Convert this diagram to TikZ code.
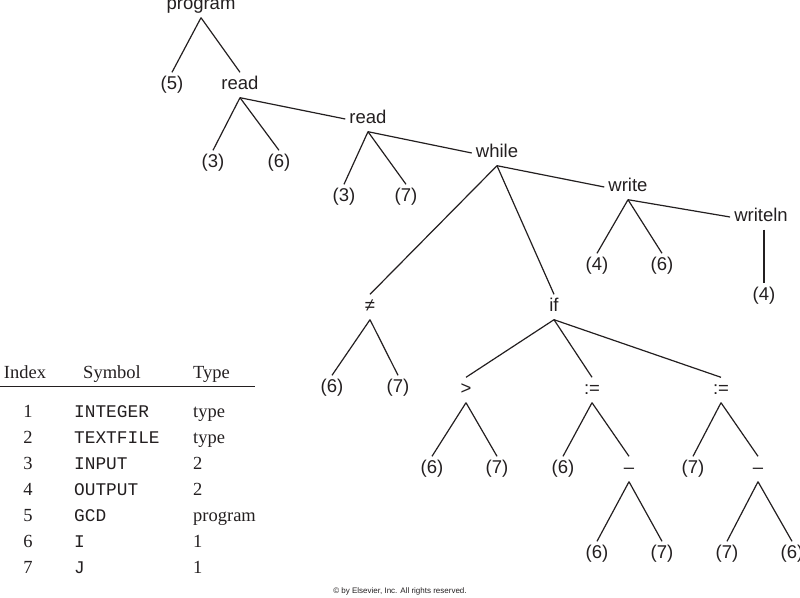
\documentclass[tikz,border=0pt]{standalone}
\usepackage{fontspec}
\setmainfont{Liberation Serif}
\setsansfont{Liberation Sans}
\setmonofont{Liberation Mono}
\definecolor{ink}{RGB}{35,31,32}

\begin{document}
\begin{tikzpicture}[x=1pt,y=-1pt,
    lbl/.style={font=\sffamily\fontsize{18.5}{20}\selectfont,text=ink,
        text height=13pt,text depth=4pt,inner sep=4pt},
    edge/.style={draw=ink,line width=1.2pt},
    tab/.style={font=\fontsize{18.5}{21}\selectfont,text=ink,inner sep=0pt,anchor=base},
    sym/.style={font=\ttfamily\fontsize{17.8}{20}\selectfont,text=ink,inner sep=0pt,
        anchor=base west}]
    \useasboundingbox (0,0) rectangle (800,597);

    % syntax tree
    \node[lbl] (prog) at (201,5) {program};
    \node[lbl] (n5) at (172,85) {(5)};
    \node[lbl] (rd1) at (240,85) {read};
    \node[lbl] (r1a) at (213,163) {(3)};
    \node[lbl] (r1b) at (279,163) {(6)};
    \node[lbl] (rd2) at (368,119) {read};
    \node[lbl] (r2a) at (344,197) {(3)};
    \node[lbl] (r2b) at (406,197) {(7)};
    \node[lbl] (wh) at (497,153) {while};
    \node[lbl] (wr) at (628,187) {write};
    \node[lbl] (wr1) at (597,266) {(4)};
    \node[lbl] (wr2) at (662,266) {(6)};
    \node[lbl] (wl) at (761,217) {writeln};
    \node[lbl] (wl1) at (764,296) {(4)};
    \node[lbl] (ne) at (370,307) {≠};
    \node[lbl] (ne1) at (332,388) {(6)};
    \node[lbl] (ne2) at (398,388) {(7)};
    \node[lbl] (if) at (554,307) {if};
    \node[lbl] (gt) at (466,390) {>};
    \node[lbl] (as1) at (592,390) {:=};
    \node[lbl] (as2) at (721,390) {:=};
    \node[lbl] (gt1) at (432,469) {(6)};
    \node[lbl] (gt2) at (497,469) {(7)};
    \node[lbl] (as1a) at (563,469) {(6)};
    \node[lbl] (mi1) at (629,469) {–};
    \node[lbl] (mi1a) at (597,554) {(6)};
    \node[lbl] (mi1b) at (662,554) {(7)};
    \node[lbl] (as2a) at (693,469) {(7)};
    \node[lbl] (mi2) at (758,469) {–};
    \node[lbl] (mi2a) at (727,554) {(7)};
    \node[lbl] (mi2b) at (792,554) {(6)};

    \foreach \a/\b in {prog/n5,prog/rd1,rd1/r1a,rd1/r1b,rd2/r2a,rd2/r2b,
        wh/ne,wh/if,wr/wr1,wr/wr2,ne/ne1,ne/ne2,if/gt,if/as1,if/as2,
        gt/gt1,gt/gt2,as1/as1a,as1/mi1,mi1/mi1a,mi1/mi1b,
        as2/as2a,as2/mi2,mi2/mi2a,mi2/mi2b}
        \draw[edge] (\a.south) -- (\b.north);
    \foreach \a/\b in {rd1/rd2,rd2/wh,wh/wr,wr/wl}
        \draw[edge] (\a.south) -- (\b.west);
    \draw[edge] (wl1.north |- wl.south) -- (wl1.north);

    % symbol table
    \node[tab] (hidx) at (25,378) {Index};
    \node[tab] (hsym) at (112,378) {Symbol};
    \node[tab,anchor=base west] (htyp) at (193,378) {Type};
    \coordinate (rl) at (0,386.5);
    \coordinate (rr) at (255,386.5);
    \draw[draw=ink,line width=1.1pt] (rl) -- (rr);
    \foreach \i/\s/\t in {1/INTEGER/type,2/TEXTFILE/type,3/INPUT/2,
        4/OUTPUT/2,5/GCD/program,6/I/1,7/J/1}{
        \node[tab] (idx\i) at (28,391+26*\i) {\i};
        \node[sym] (sym\i) at (74,391+26*\i) {\s};
        \node[tab,anchor=base west] (typ\i) at (193,391+26*\i) {\t};
    }

    \node[font=\sffamily\fontsize{8}{9}\selectfont,text=ink] (copy) at (400,591)
        {© by Elsevier, Inc. All rights reserved.};
\end{tikzpicture}
\end{document}
